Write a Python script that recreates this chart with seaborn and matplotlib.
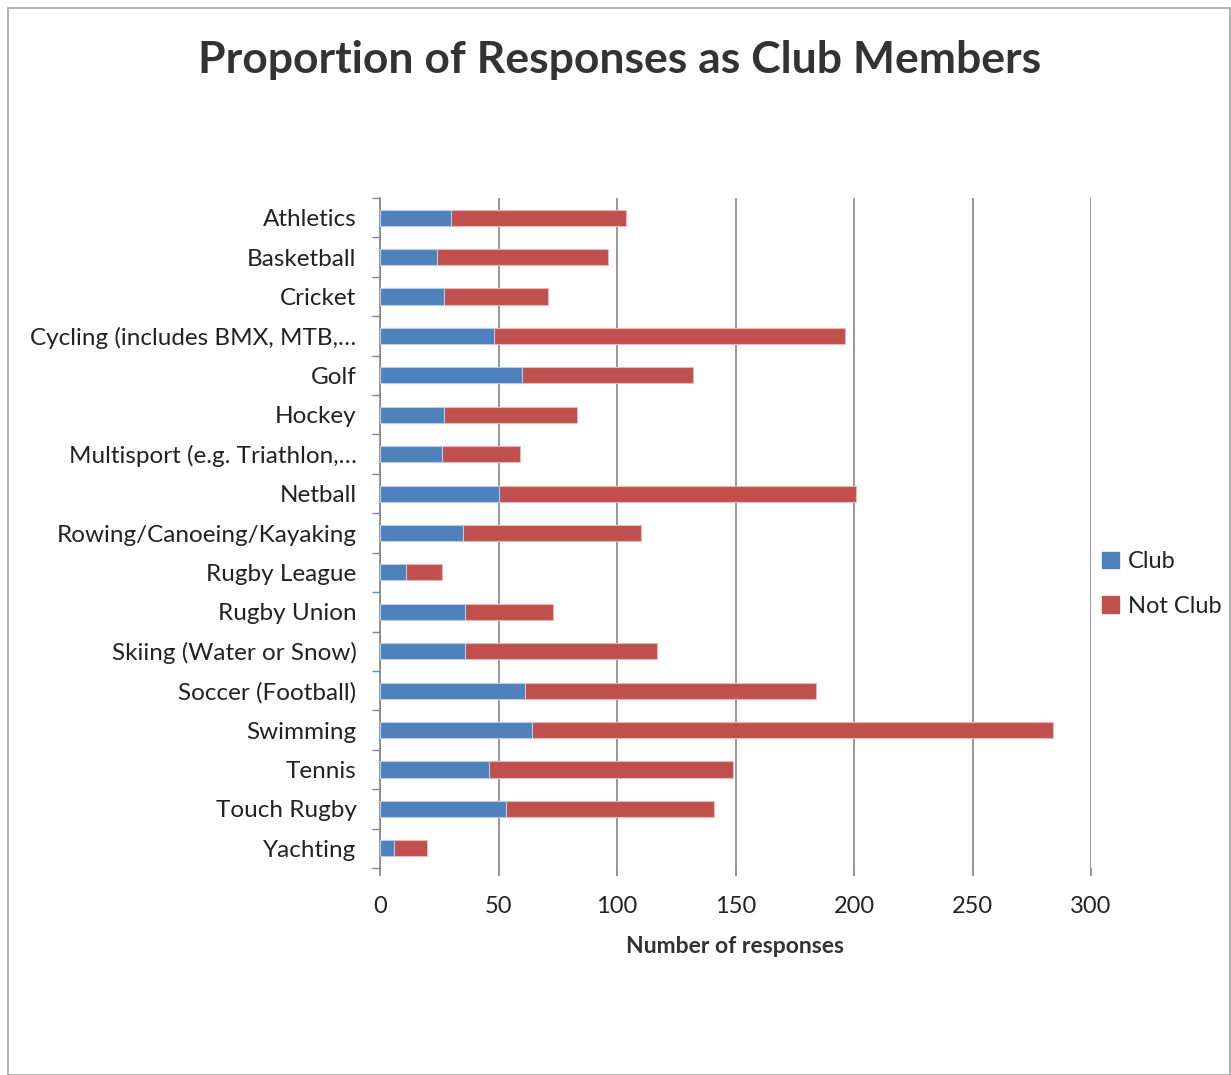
import matplotlib
matplotlib.use("Agg")
import matplotlib.pyplot as plt
import seaborn as sns
import pandas as pd
from matplotlib.patches import Rectangle, Patch

sports = ["Athletics", "Basketball", "Cricket", "Cycling (includes BMX, MTB,…",
          "Golf", "Hockey", "Multisport (e.g. Triathlon,…", "Netball",
          "Rowing/Canoeing/Kayaking", "Rugby League", "Rugby Union",
          "Skiing (Water or Snow)", "Soccer (Football)", "Swimming", "Tennis",
          "Touch Rugby", "Yachting"]
club = [30, 24, 27, 48, 60, 27, 26, 50, 35, 11, 36, 36, 61, 64, 46, 53, 6]
not_club = [74, 72, 44, 148, 72, 56, 33, 151, 75, 15, 37, 81, 123, 220, 103, 88, 14]
x_ticks = [0, 50, 100, 150, 200, 250, 300]

df = pd.DataFrame({"sport": sports, "Club": club, "Not Club": not_club})
df["total"] = df["Club"] + df["Not Club"]

BLUE = "#4F81BD"
RED = "#C0504D"
FONT = ["Lato", "DejaVu Sans"]

sns.set_theme(style="white")
plt.rcParams["font.family"] = FONT

fig = plt.figure(figsize=(12.31, 10.75), dpi=100)
ax = fig.add_axes([380/1231, 1-868/1075, 711/1231, 670/1075])

sns.barplot(data=df, y="sport", x="total", color=RED, orient="h", width=0.41,
            edgecolor="#E6B9B8", linewidth=0.8, saturation=1, ax=ax, zorder=3)
sns.barplot(data=df, y="sport", x="Club", color=BLUE, orient="h", width=0.41,
            edgecolor="#B9CDE5", linewidth=0.8, saturation=1, ax=ax, zorder=4)

ax.set_xlim(0, 300)
ax.set_ylim(len(sports) - 0.5, -0.5)
ax.set_xticks(x_ticks)
ax.set_xticklabels([str(t) for t in x_ticks], fontsize=17, color="#222222")
ax.tick_params(axis="y", labelsize=17.5, labelcolor="#222222", length=0, pad=17)
ax.tick_params(axis="x", length=6, color="#868686", direction="out", pad=14, bottom=True)
ax.set_yticks(range(len(sports)))
ax.set_yticklabels(sports)
# boundary ticks on y-axis
ax.set_yticks([i - 0.5 for i in range(len(sports) + 1)], minor=True)
ax.tick_params(axis="y", which="minor", length=6, color="#868686", direction="out", left=True)

ax.grid(axis="x", color="#868686", linewidth=1.2, zorder=0)
ax.set_axisbelow(True)
for s in ["top", "right", "bottom"]:
    ax.spines[s].set_visible(False)
ax.spines["left"].set_color("#868686")
ax.spines["left"].set_linewidth(1.2)

ax.set_ylabel("")
ax.set_xlabel("Number of responses", fontsize=16.5, fontweight="bold", color="#333333", labelpad=14)

fig.text(620/1231, 1-60/1075, "Proportion of Responses as Club Members", ha="center", va="center",
         fontsize=32, fontweight="bold", color="#333333")

handles = [Patch(facecolor=BLUE, edgecolor=BLUE, label="Club"),
           Patch(facecolor=RED, edgecolor=RED, label="Not Club")]
leg = fig.legend(handles=handles, loc="center left", bbox_to_anchor=(1081/1231, 1-584/1075),
                 frameon=False, fontsize=17, handlelength=0.7, handleheight=0.7,
                 handletextpad=0.4, labelspacing=1.0, labelcolor="#222222")

fig.patches.append(Rectangle((8/1231, 0), 1 - 9/1231, 1 - 8/1075, transform=fig.transFigure,
                             fill=False, edgecolor="#A6A6A6", linewidth=1.2))

fig.savefig("out.png", dpi=100, facecolor="white")
